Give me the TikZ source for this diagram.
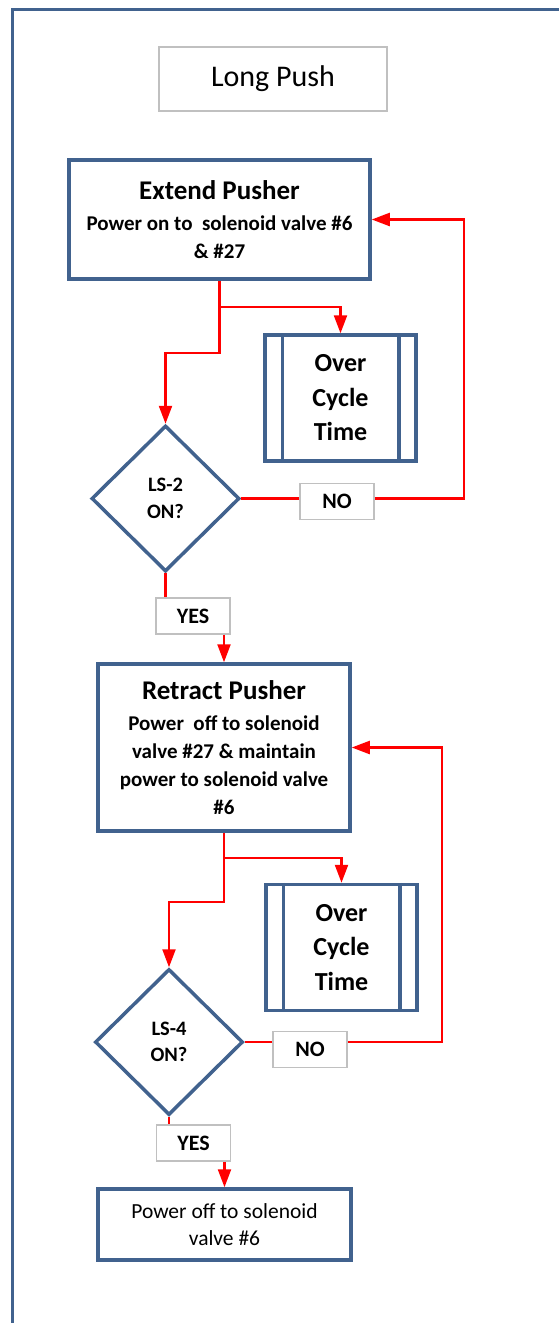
\documentclass[tikz,border=0pt]{standalone}
\usepackage{fontspec}
\setmainfont{Carlito}
\usetikzlibrary{arrows.meta,shapes.geometric}
\definecolor{flowblue}{RGB}{65,98,142}
\definecolor{flowred}{RGB}{255,0,0}
\definecolor{tagline}{RGB}{192,192,192}
\begin{document}
\begin{tikzpicture}[x=1pt, y=-1pt, every node/.style={font=\bfseries\fontsize{21}{28}\selectfont},
  procbox/.style={draw=flowblue,line width=3.5pt,align=center,inner sep=0pt},
  subproc/.style={procbox,minimum width=151pt,minimum height=126pt,font=\bfseries\fontsize{26}{34.5}\selectfont},
  decide/.style={diamond,draw=flowblue,line width=3.5pt,align=center,inner sep=0pt,minimum width=148pt,minimum height=146pt,font=\bfseries\fontsize{20.5}{26.5}\selectfont},
  tag/.style={draw=tagline,line width=1.5pt,minimum width=74pt,minimum height=36pt,inner sep=0pt,font=\bfseries\fontsize{22}{26}\selectfont},
  flow/.style={draw=flowred,line width=2.3pt,-{Triangle[length=18pt,width=13pt]}},
  link/.style={draw=flowred,line width=2.3pt}]
\useasboundingbox (0,0) rectangle (559,1323);
\draw[flowblue,line width=3pt] (12,1323) -- (12,9) -- (559,9);
\node[draw=tagline,line width=1.5pt,minimum width=228pt,minimum height=64pt,font=\fontsize{30}{36}\selectfont] (title) at (273,79) {Long Push};
\node[procbox,minimum width=301pt,minimum height=119pt] (ext) at (219.5,219.5) {{\fontsize{27}{32}\selectfont Extend Pusher}\\[3pt] Power on to~ solenoid valve \#6\\ \& \#27};
\node[subproc] (oc1) at (340.5,398) {Over\\Cycle\\Time};
\node[decide] (d1) at (165.5,498.5) {LS-2\\ON?};
\node[tag] (no1) at (337,501.5) {NO};
\node[tag] (yes1) at (193,616) {YES};
\node[procbox,minimum width=252pt,minimum height=167pt] (ret) at (224,747.5) {{\fontsize{27}{32}\selectfont Retract Pusher}\\[3pt] Power~ off to solenoid\\ valve \#27 \& maintain\\ power to solenoid valve\\ \#6};
\node[subproc] (oc2) at (341.5,947.5) {Over\\Cycle\\Time};
\node[decide] (d2) at (169,1042) {LS-4\\ON?};
\node[tag] (no2) at (310,1049.5) {NO};
\node[tag] (yes2) at (193.5,1143) {YES};
\node[procbox,minimum width=253pt,minimum height=71pt,font=\fontsize{21.5}{27}\selectfont] (fin) at (224.5,1224.5) {Power off to solenoid\\ valve \#6};
\foreach \n in {oc1,oc2} {
  \draw[flowblue,line width=3.5pt] ([xshift=19pt]\n.north west) -- ([xshift=19pt]\n.south west);
  \draw[flowblue,line width=3.5pt] ([xshift=-19pt]\n.north east) -- ([xshift=-19pt]\n.south east);
}
\draw[flow] (ext.south) -- ++(0,26) -| (oc1.north);
\draw[flow] (ext.south) -- ++(0,72) -| (d1.north);
\draw[link] (d1.east) -- (d1.east -| no1.west);
\draw[flow] (no1.east |- d1.east) -- ++(89,0) |- (ext.east);
\draw[link] (d1.south) -- (d1.south |- yes1.north);
\draw[flow] (yes1.south -| ret.north) -- (ret.north);
\draw[flow] (ret.south) -- ++(0,25) -| (oc2.north);
\draw[flow] (ret.south) -- ++(0,69) -| (d2.north);
\draw[link] (d2.east) -- (d2.east -| no2.west);
\draw[flow] (no2.east |- d2.east) -- ++(94,0) |- (ret.east);
\draw[link] (d2.south) -- (d2.south |- yes2.north);
\draw[flow] (yes2.south -| fin.north) -- (fin.north);
\end{tikzpicture}
\end{document}
